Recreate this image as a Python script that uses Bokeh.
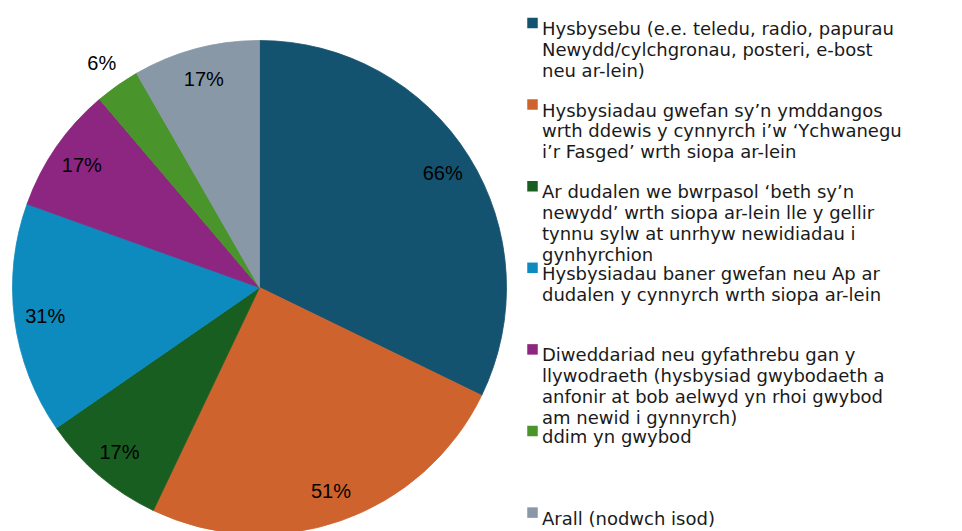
import numpy as np
from bokeh.plotting import figure
from bokeh.models import ColumnDataSource, Range1d
from bokeh.embed import file_html
from bokeh.resources import INLINE
from bokeh.core.properties import value

# ---------------- data ----------------
categories = [
    "Hysbysebu (e.e. teledu, radio, papurau\nNewydd/cylchgronau, posteri, e-bost\nneu ar-lein)",
    "Hysbysiadau gwefan sy\u2019n ymddangos\nwrth ddewis y cynnyrch i\u2019w \u2018Ychwanegu\ni\u2019r Fasged\u2019 wrth siopa ar-lein",
    "Ar dudalen we bwrpasol \u2018beth sy\u2019n\nnewydd\u2019 wrth siopa ar-lein lle y gellir\ntynnu sylw at unrhyw newidiadau i\ngynhyrchion",
    "Hysbysiadau baner gwefan neu Ap ar\ndudalen y cynnyrch wrth siopa ar-lein",
    "Diweddariad neu gyfathrebu gan y\nllywodraeth (hysbysiad gwybodaeth a\nanfonir at bob aelwyd yn rhoi gwybod\nam newid i gynnyrch)",
    "ddim yn gwybod",
    "Arall (nodwch isod)",
]
values = [66, 51, 17, 31, 17, 6, 17]
pct_labels = ["66%", "51%", "17%", "31%", "17%", "6%", "17%"]
colors = ["#145370", "#CF632D", "#195E21", "#0E8BBE", "#8C2680", "#49942B", "#8898A7"]

# ---------------- layout ----------------
W, H = 962, 531


def sx(x):
    return x


def sy(y):
    return H - y


cx, cy = sx(259), sy(287)
R = 247

vals = np.array(values, dtype=float)
frac = vals / vals.sum()
cum = np.concatenate([[0.0], np.cumsum(frac)])
start = np.pi / 2 - 2 * np.pi * cum[1:]
end = np.pi / 2 - 2 * np.pi * cum[:-1]
mid = (start + end) / 2
lr = np.where(frac < 0.05, 1.11 * R, 0.875 * R)

pie = ColumnDataSource(dict(
    start=start, end=end, color=colors,
    lx=cx + lr * np.cos(mid), ly=cy + lr * np.sin(mid), lab=pct_labels,
))

p = figure(width=W, height=H, x_range=Range1d(0, W), y_range=Range1d(0, H),
           output_backend="svg", toolbar_location=None,
           x_axis_type=None, y_axis_type=None, min_border=0)
p.grid.visible = False
p.outline_line_color = None
p.background_fill_color = "white"
p.border_fill_color = "white"

p.wedge(x=cx, y=cy, radius=R, start_angle="start", end_angle="end",
        direction="anticlock", fill_color="color", line_color="color",
        line_width=0.8, source=pie)

p.text(x="lx", y="ly", text="lab", source=pie, text_align="center",
       text_baseline="middle", text_font=value("Liberation Sans"),
       text_font_size="20px", text_color="#000000")

# legend
pitch, line_gap, first_base = 81.6, 20.8, 28.0
lx_, ly_, lt_ = [], [], []
sq_y = []
for i, cat in enumerate(categories):
    base = first_base + pitch * i
    sq_y.append(sy(base - 5.5))
    for j, line in enumerate(cat.split("\n")):
        lx_.append(sx(541.5))
        ly_.append(sy(base + line_gap * j))
        lt_.append(line)

leg_sq = ColumnDataSource(dict(x=[sx(532)] * len(categories), y=sq_y, color=colors))
p.rect(x="x", y="y", width=10.5, height=10.5, fill_color="color",
       line_color=None, source=leg_sq)

leg_txt = ColumnDataSource(dict(x=lx_, y=ly_, t=lt_))
p.text(x="x", y="y", text="t", source=leg_txt, text_align="left",
       text_baseline="alphabetic", text_font=value("DejaVu Sans"),
       text_font_size="18px", text_color="#1a1a1a")

open("out.html", "w").write(file_html(p, INLINE))
